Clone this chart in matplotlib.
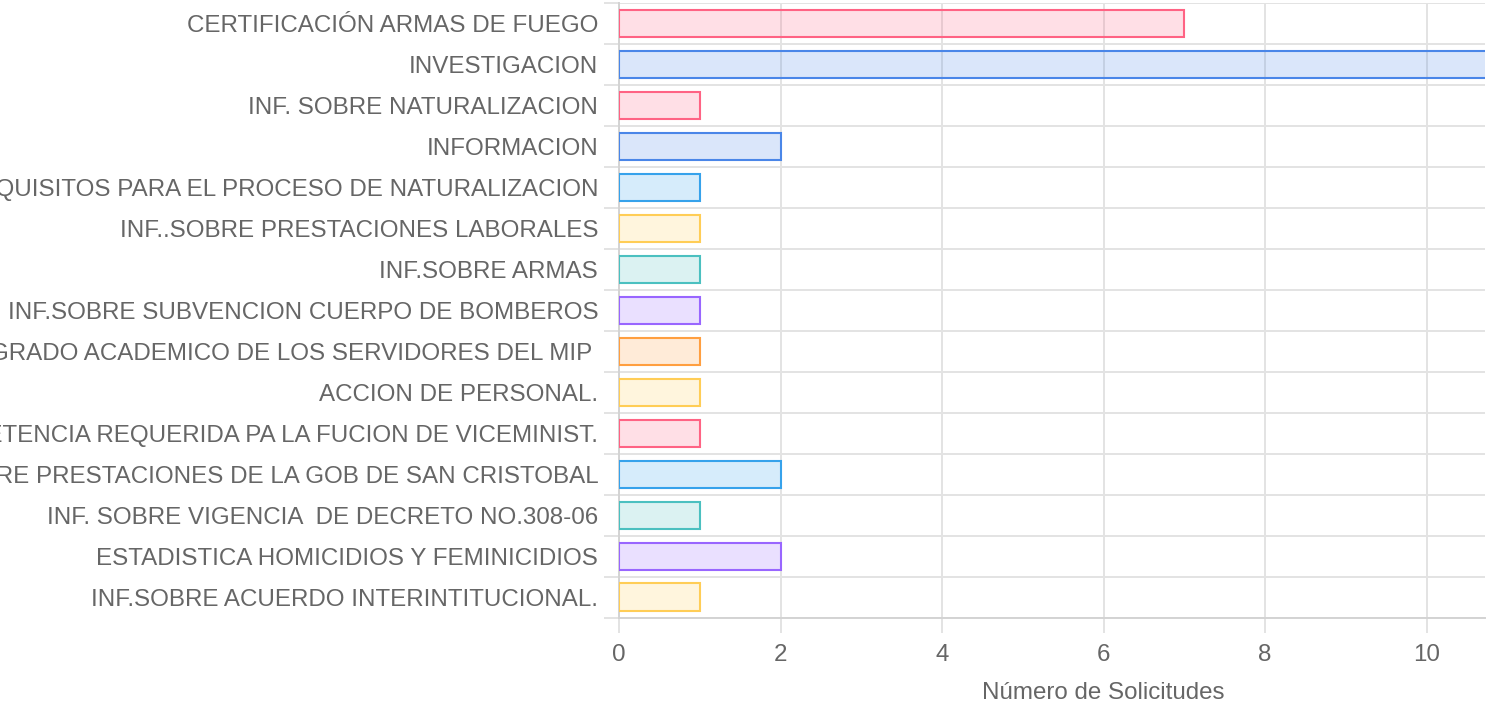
import matplotlib.pyplot as plt
import numpy as np
from matplotlib.colors import to_rgba

# Datos de solicitudes por tipo
categorias = [
    "CERTIFICACIÓN ARMAS DE FUEGO",
    "INVESTIGACION",
    "INF. SOBRE NATURALIZACION",
    "INFORMACION",
    "REQUISITOS PARA EL PROCESO DE NATURALIZACION",
    "INF..SOBRE PRESTACIONES LABORALES",
    "INF.SOBRE ARMAS",
    "INF.SOBRE SUBVENCION CUERPO DE BOMBEROS",
    "GRADO ACADEMICO DE LOS SERVIDORES DEL MIP ",
    "ACCION DE PERSONAL.",
    "COMPETENCIA REQUERIDA PA LA FUCION DE VICEMINIST.",
    "INF. SOBRE PRESTACIONES DE LA GOB DE SAN CRISTOBAL",
    "INF. SOBRE VIGENCIA  DE DECRETO NO.308-06",
    "ESTADISTICA HOMICIDIOS Y FEMINICIDIOS",
    "INF.SOBRE ACUERDO INTERINTITUCIONAL.",
]
solicitudes = [7, 11, 1, 2, 1, 1, 1, 1, 1, 1, 1, 2, 1, 2, 1]
colores = [
    "#ff6384", "#4a86e8", "#ff6384", "#4a86e8", "#36a2eb",
    "#ffcd56", "#4bc0c0", "#9966ff", "#ff9f40", "#ffcd56",
    "#ff6384", "#36a2eb", "#4bc0c0", "#9966ff", "#ffcd56",
]

plt.rcParams['font.family'] = ['Liberation Sans', 'DejaVu Sans']
texto = '#666666'
rejilla = '#e3e3e3'
tam = 17.4

fig = plt.figure(figsize=(14.97, 7.10), dpi=100)
# el grafico original esta recortado a la derecha (eje hasta ~10.7)
ax = fig.add_axes([619 / 1497, 1 - 617.5 / 710, 866 / 1497, 614.5 / 710])

y = np.arange(len(categorias))
relleno = [to_rgba(c, 0.2) for c in colores]
ax.barh(y, solicitudes, height=0.66, color=relleno, edgecolor=colores,
        linewidth=1.5, zorder=3)

ax.set_xlim(0, 866 / 80.75)
ax.set_ylim(len(categorias) - 0.5, -0.5)
ax.set_xticks(np.arange(0, 11, 2))
ax.set_yticks(y)
ax.set_yticklabels(categorias)
ax.set_yticks(np.arange(-0.5, len(categorias), 1), minor=True)

ax.grid(axis='x', color=rejilla, linewidth=1.4, zorder=0)
ax.grid(axis='y', which='minor', color=rejilla, linewidth=1.4, zorder=0)
ax.tick_params(axis='y', which='major', length=0, pad=15,
               labelsize=tam, labelcolor=texto)
ax.tick_params(axis='y', which='minor', length=10.8, width=1.4, color=rejilla)
ax.tick_params(axis='x', length=10.8, width=1.4, color=rejilla, pad=8,
               labelsize=tam, labelcolor=texto)

for lado in ['top', 'right']:
    ax.spines[lado].set_visible(False)
ax.spines['left'].set_color('#d3d3d3')
ax.spines['left'].set_linewidth(1.4)
ax.spines['bottom'].set_color('#d3d3d3')
ax.spines['bottom'].set_linewidth(1.4)

ax.set_xlabel("Número de Solicitudes", fontsize=tam, color=texto)
ax.xaxis.set_label_coords((1103 - 619) / 866, -0.105)

plt.savefig('out.png', dpi=100)
